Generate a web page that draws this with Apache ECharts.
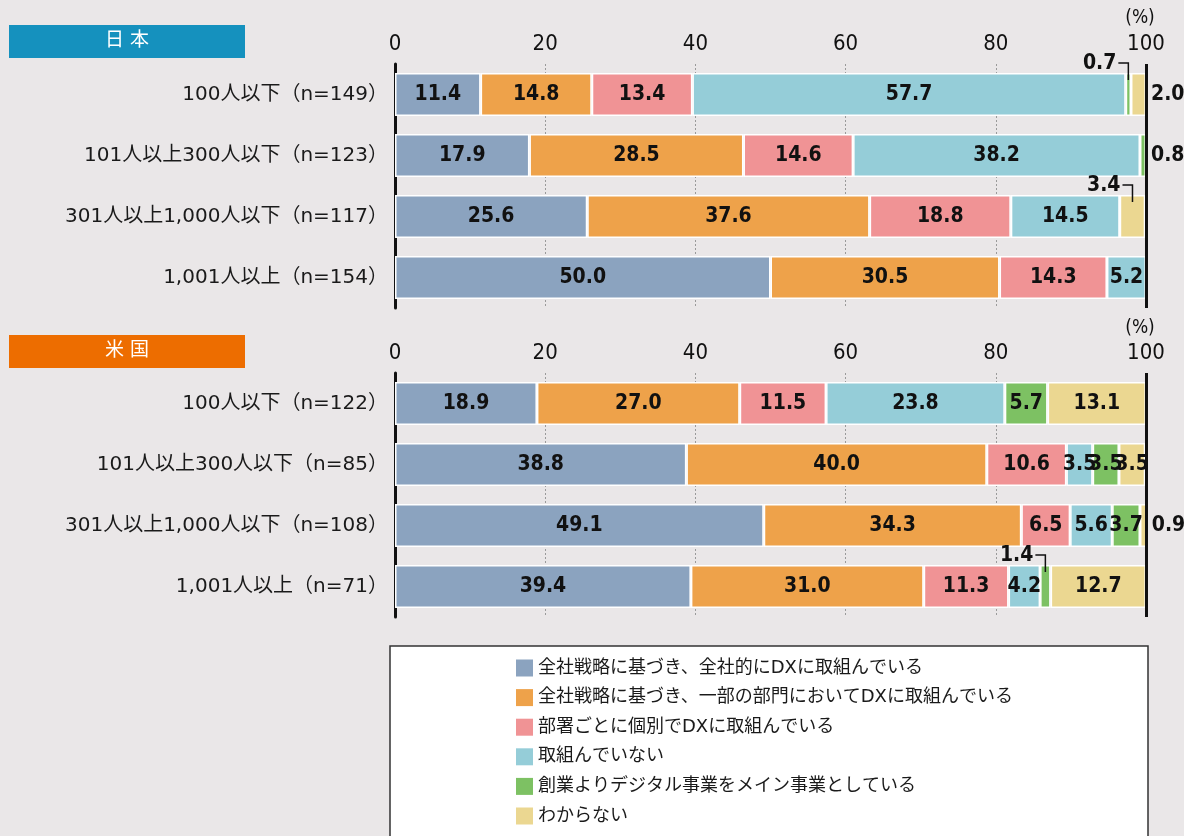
<!DOCTYPE html>
<html><head><meta charset="utf-8">
<script src="https://cdn.jsdelivr.net/npm/echarts@6/dist/echarts.min.js"></script>
<style>html,body{margin:0;padding:0;background:#EAE7E8;}#c{width:1184px;height:836px;}</style>
</head><body><div id="c"></div>
<script>
const seriesNames = [
  '全社戦略に基づき、全社的にDXに取組んでいる',
  '全社戦略に基づき、一部の部門においてDXに取組んでいる',
  '部署ごとに個別でDXに取組んでいる',
  '取組んでいない',
  '創業よりデジタル事業をメイン事業としている',
  'わからない'
];
const colors = ['#8BA3BF','#EEA24A','#F09395','#95CDD8','#7DC163','#EBD791'];

const jpCategories = ['100人以下（n=149）','101人以上300人以下（n=123）','301人以上1,000人以下（n=117）','1,001人以上（n=154）'];
const usCategories = ['100人以下（n=122）','101人以上300人以下（n=85）','301人以上1,000人以下（n=108）','1,001人以上（n=71）'];

const jpFull    = [11.4, 17.9, 25.6, 50.0];
const jpPart    = [14.8, 28.5, 37.6, 30.5];
const jpDept    = [13.4, 14.6, 18.8, 14.3];
const jpNone    = [57.7, 38.2, 14.5, 5.2];
const jpDigital = [0.7, 0.8, 0, 0];
const jpUnknown = [2.0, 0, 3.4, 0];

const usFull    = [18.9, 38.8, 49.1, 39.4];
const usPart    = [27.0, 40.0, 34.3, 31.0];
const usDept    = [11.5, 10.6, 6.5, 11.3];
const usNone    = [23.8, 3.5, 5.6, 4.2];
const usDigital = [5.7, 3.5, 3.7, 1.4];
const usUnknown = [13.1, 3.5, 0.9, 12.7];

const xMin = 0, xMax = 100, xInterval = 20;

// small values: label with a leader above, or label outside to the right
const jpLeaders = [[4,0],[5,2]];
const usLeaders = [[4,3]];
const jpRight = [[5,0],[4,1]];
const usRight = [[5,2]];

const jpSets = [jpFull, jpPart, jpDept, jpNone, jpDigital, jpUnknown];
const usSets = [usFull, usPart, usDept, usNone, usDigital, usUnknown];

const numFont = "'Liberation Sans Narrow','DejaVu Sans Condensed','Noto Sans CJK JP',sans-serif";
const cjkFont = "'DejaVu Sans','Noto Sans CJK JP','Noto Sans',sans-serif";

function has(list, k, r){ return list.some(p => p[0]===k && p[1]===r); }

const option = {
  backgroundColor: '#EAE7E8',
  animation: false,
  grid: [
    {left: 395, right: 38, top: 64, height: 244, outerBoundsMode: 'none'},
    {left: 395, right: 38, top: 373, height: 244, outerBoundsMode: 'none'}
  ],
  xAxis: [0,1].map(i => ({
    gridIndex: i, type: 'value', position: 'top', min: xMin, max: xMax, interval: xInterval,
    axisLine: {show: false}, axisTick: {show: false},
    axisLabel: {color: '#111', fontSize: 22, fontFamily: numFont, margin: 9, showMinLabel: true, showMaxLabel: true},
    splitLine: {show: true, lineStyle: {color: '#9a9a9a', width: 1, type: [2, 2]}}
  })),
  yAxis: [jpCategories, usCategories].map((cats, i) => ({
    gridIndex: i, type: 'category', data: cats, inverse: true,
    axisLine: {show: true, lineStyle: {color: '#111', width: 3}},
    axisTick: {show: false},
    axisLabel: {color: '#1a1a1a', fontSize: 20, fontFamily: cjkFont, margin: 7}
  })),
  legend: {
    orient: 'vertical', left: 516, top: 659, padding: 0, z: 10,
    itemWidth: 17, itemHeight: 17, itemGap: 11.6, icon: 'rect',
    itemStyle: {borderWidth: 0},
    data: seriesNames,
    textStyle: {color: '#1a1a1a', fontSize: 18, lineHeight: 18, fontFamily: cjkFont},
    selectedMode: false
  },
  graphic: [
    {type: 'rect', z: 0, shape: {x: 390, y: 646, width: 758, height: 210}, style: {fill: '#ffffff', stroke: '#333', lineWidth: 1.5}},
    {type: 'rect', shape: {x: 9, y: 25, width: 236, height: 33}, style: {fill: '#1591BE'}},
    {type: 'text', x: 127, y: 41.5, style: {text: '日 本', fill: '#fff', fontSize: 19, fontFamily: cjkFont, align: 'center', verticalAlign: 'middle'}},
    {type: 'rect', shape: {x: 9, y: 335, width: 236, height: 33}, style: {fill: '#ED6D00'}},
    {type: 'text', x: 127, y: 351.5, style: {text: '米 国', fill: '#fff', fontSize: 19, fontFamily: cjkFont, align: 'center', verticalAlign: 'middle'}},
    {type: 'text', x: 1140, y: 18, style: {text: '(%)', fill: '#111', fontSize: 19, fontFamily: numFont, align: 'center', verticalAlign: 'middle'}},
    {type: 'text', x: 1140, y: 328, style: {text: '(%)', fill: '#111', fontSize: 19, fontFamily: numFont, align: 'center', verticalAlign: 'middle'}}
  ],
  series: []
};

[[jpSets, jpLeaders, jpRight], [usSets, usLeaders, usRight]].forEach(([sets, leaders, rights], g) => {
  sets.forEach((vals, k) => {
    option.series.push({
      type: 'bar', name: seriesNames[k], stack: 'g' + g, xAxisIndex: g, yAxisIndex: g,
      barWidth: 43,
      itemStyle: {color: colors[k], borderColor: '#fff', borderWidth: 1.5},
      label: {
        show: true, position: 'inside', color: '#111', fontSize: 21, fontWeight: 'bold',
        fontFamily: numFont,
        formatter: p => p.value ? Number(p.value).toFixed(1) : ''
      },
      labelLayout: params => {
        if (has(leaders, k, params.dataIndex)) {
          return {x: params.rect.x + params.rect.width / 2 - 12, y: params.rect.y - 9.5, align: 'right', verticalAlign: 'middle'};
        }
        return {};
      },
      data: vals.map((v, r) => has(rights, k, r)
        ? {value: v, label: {position: 'right', distance: 5}}
        : v),
      markLine: k === 0 ? {
        symbol: 'none', silent: true, z: 20, label: {show: false},
        lineStyle: {color: '#111', width: 3, type: 'solid'},
        data: [{xAxis: xMax}]
      } : undefined,
      z: 3
    });
  });
  // leader lines
  const leaderData = leaders.map(([k, r]) => {
    let start = 0;
    for (let j = 0; j < k; j++) start += sets[j][r];
    return [start + sets[k][r] / 2, r];
  });
  option.series.push({
    type: 'custom', xAxisIndex: g, yAxisIndex: g, z: 10, silent: true,
    encode: {x: 0, y: 1},
    data: leaderData,
    renderItem: (params, api) => {
      const p = api.coord([api.value(0), api.value(1)]);
      const top = p[1] - 21.5;
      return {
        type: 'polyline',
        shape: {points: [[p[0] - 10, top - 10], [p[0], top - 10], [p[0], top + 7]]},
        style: {stroke: '#111', lineWidth: 1.5, fill: null}
      };
    }
  });
});

const chart = echarts.init(document.getElementById('c'), null, {renderer: 'canvas'});
chart.setOption(option);
</script>
</body></html>
